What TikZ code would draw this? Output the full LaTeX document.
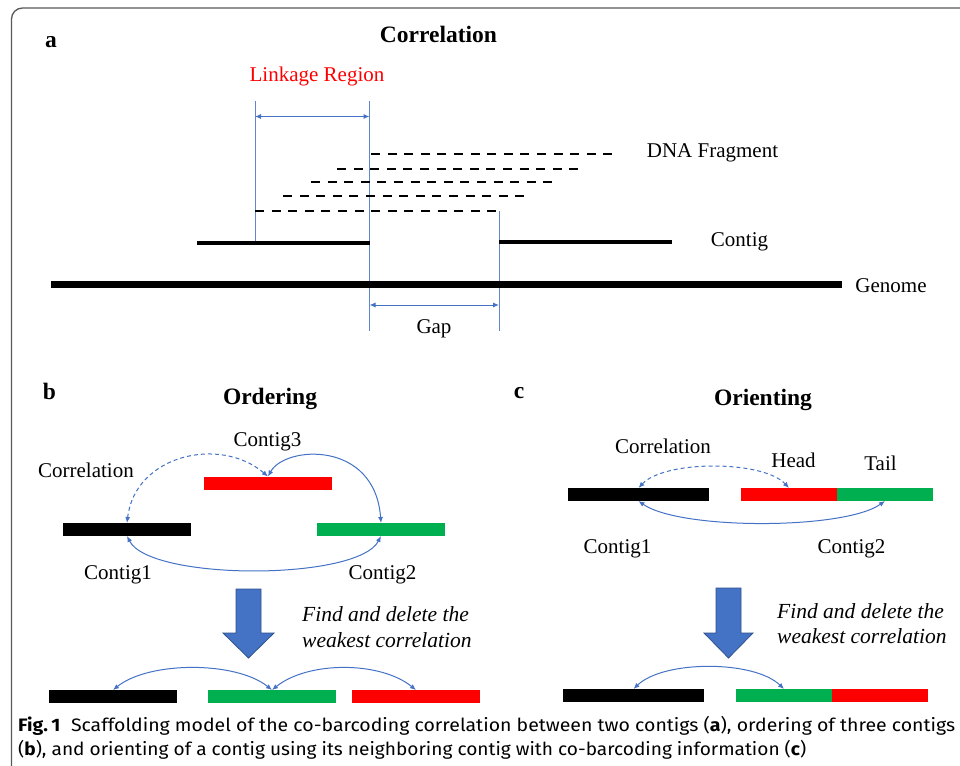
\documentclass[tikz,border=0pt]{standalone}
\usepackage{fontspec}
\usepackage{graphicx}
\setmainfont{Liberation Serif}
\newfontfamily\capfont{Fira Sans}
\usetikzlibrary{arrows.meta}
\definecolor{lblue}{HTML}{4472C4}
\definecolor{dblue}{HTML}{2F528F}
\definecolor{cred}{HTML}{FF0000}
\definecolor{cgreen}{HTML}{00B050}
\definecolor{framegray}{HTML}{595959}
\begin{document}
\begin{tikzpicture}[x=1pt,y=-1pt,
 lbl/.style={font=\fontsize{21}{24}\selectfont, inner sep=0pt, anchor=base},
 ttl/.style={font=\fontsize{23.5}{26}\selectfont\bfseries, inner sep=0pt, anchor=base},
 ital/.style={font=\fontsize{21.5}{24}\selectfont\itshape, inner sep=0pt, anchor=base west},
 bar/.style={draw=none, inner sep=0pt, outer sep=0pt, minimum height=13pt, rectangle},
 link/.style={draw=lblue, line width=1pt, {Latex[length=6pt,width=5pt]}-{Latex[length=6pt,width=5pt]}},
 corr/.style={draw=lblue, line width=1pt, {Latex[length=6pt,width=5pt]}-{Latex[length=6pt,width=5pt]}},
 dcorr/.style={corr, dash pattern=on 4pt off 3pt},
 guide/.style={draw=lblue!85, line width=1pt},
 frag/.style={line width=2.8pt, dash pattern=on 9pt off 7.6pt},
 bigarrow/.style={fill=lblue, draw=dblue, line width=0.8pt},
 caption/.style={inner sep=0pt, anchor=base west},
]
\useasboundingbox (0,0) rectangle (960,765);
\clip (0,0) rectangle (960,765);
\fill[white] (0,0) rectangle (960,765);
% frame
\draw[framegray, line width=1.3pt, rounded corners=11pt] (975,8) -- (11.5,8) -- (11.5,780);

% ---------- panel a ----------
\node[ttl] (ta) at (51,48) {a};
\node[ttl] (tcorr) at (438.5,42.5) {Correlation};
\node[lbl, text=cred] (linkreg) at (317,82) {Linkage Region};
\coordinate (L1t) at (255,101); \coordinate (L1b) at (255,243);
\coordinate (L2t) at (369.5,101); \coordinate (L2b) at (369.5,331);
\coordinate (L3t) at (499,211); \coordinate (L3b) at (499,331);
\draw[guide] (L1t) -- (L1b);
\draw[guide] (L2t) -- (L2b);
\draw[guide] (L3t) -- (L3b);
\coordinate (la) at (255,116.5); \coordinate (lb) at (369.5,116.5);
\draw[link] (la) -- (lb);
\coordinate (ga) at (369.5,305); \coordinate (gb) at (499,305);
\draw[link] (ga) -- (gb);
\draw[frag] (371,154) -- (614,154);
\draw[frag] (337,169) -- (581,169);
\draw[frag] (311,182) -- (555,182);
\draw[frag] (283,196) -- (527,196);
\draw[frag] (255,211) -- (499,211);
\draw[line width=3.5pt] (197,243) -- (370,243);
\draw[line width=3.5pt] (499,242) -- (672,242);
\draw[line width=7pt] (51,284) -- (842,284);
\node[lbl] (dna) at (712.5,157) {DNA Fragment};
\node[lbl] (contig) at (739.5,246) {Contig};
\node[lbl] (genome) at (891,292) {Genome};
\node[lbl] (gap) at (434,333) {Gap};

% ---------- panel b ----------
\node[ttl] (tb) at (49.5,399) {b};
\node[ttl] (tord) at (270,404) {Ordering};
\node[bar, fill=black, minimum width=128pt] (b1) at (127,529.5) {};
\node[bar, fill=cred, minimum width=128pt] (b3) at (268,483) {};
\node[bar, fill=cgreen, minimum width=128pt] (b2) at (381,529.5) {};
\node[lbl] (lc3) at (267.5,446) {Contig3};
\node[lbl] (lcorrb) at (86,477) {Correlation};
\node[lbl] (lc1b) at (118,579) {Contig1};
\node[lbl] (lc2b) at (382.5,579) {Contig2};
\draw[dcorr] (b1.north) .. controls +(8,-68) and +(-48,-41) .. (b3.north);
\draw[corr] (b3.north) .. controls +(17,-31) and +(-6,-83) .. (b2.north);
\draw[corr] (b1.south) .. controls +(23,45) and +(-23,45) .. (b2.south);
\draw[bigarrow] (236,589) -- (261,589) -- (261,633) -- (274,633) -- (248.5,658) -- (223,633) -- (236,633) -- cycle;
\node[ital] (fb1) at (302,621) {Find and delete the};
\node[ital] (fb2) at (302,647) {weakest correlation};
\node[bar, fill=black, minimum width=128pt] (bb1) at (113,696.5) {};
\node[bar, fill=cgreen, minimum width=128pt] (bb2) at (272,696.5) {};
\node[bar, fill=cred, minimum width=128pt] (bb3) at (416,696.5) {};
\draw[corr] (bb1.north) .. controls +(36,-29) and +(-36,-29) .. (bb2.north);
\draw[corr] (bb2.north) .. controls +(36,-29) and +(-36,-29) .. (bb3.north);

% ---------- panel c ----------
\node[ttl] (tc) at (519,398) {c};
\node[ttl] (tori) at (763,405) {Orienting};
\node[bar, fill=black, minimum width=141pt] (c1) at (638.5,494.5) {};
\node[bar, fill=cred, minimum width=96pt] (c2h) at (789,494.5) {};
\node[bar, fill=cgreen, minimum width=96pt] (c2t) at (885,494.5) {};
\node[lbl] (lcorrc) at (663,453) {Correlation};
\node[lbl] (lhead) at (793.5,467) {Head};
\node[lbl] (ltail) at (880.5,470) {Tail};
\node[lbl] (lc1c) at (617.5,553) {Contig1};
\node[lbl] (lc2c) at (851.5,553) {Contig2};
\draw[dcorr] (c1.north) .. controls +(26,-28) and +(-26,-28) .. (c2h.north);
\draw[corr] (c1.south) .. controls +(41,29) and +(-41,29) .. (c2t.south);
\draw[bigarrow] (716,588) -- (741,588) -- (741,633) -- (753,633) -- (728.5,658) -- (704,633) -- (716,633) -- cycle;
\node[ital] (fc1) at (777,618) {Find and delete the};
\node[ital] (fc2) at (777,643) {weakest correlation};
\node[bar, fill=black, minimum width=141pt] (cb1) at (633.5,695.5) {};
\node[bar, fill=cgreen, minimum width=96pt] (cb2) at (784,695.5) {};
\node[bar, fill=cred, minimum width=96pt] (cb3) at (880,695.5) {};
\draw[corr] (cb1.north) .. controls +(30,-29) and +(-30,-29) .. (cb2.north);

% ---------- caption ----------
\node[caption] (cap1) at (18,731) {\resizebox{937pt}{\height}{\capfont\fontsize{18}{22}\selectfont\textbf{Fig.\,1}\hspace{0.55em}Scaffolding model of the co-barcoding correlation between two contigs (\textbf{a}), ordering of three contigs}};
\node[caption] (cap2) at (18,755) {\resizebox{788pt}{\height}{\capfont\fontsize{18}{22}\selectfont(\textbf{b}), and orienting of a contig using its neighboring contig with co-barcoding information (\textbf{c})}};
\end{tikzpicture}
\end{document}
